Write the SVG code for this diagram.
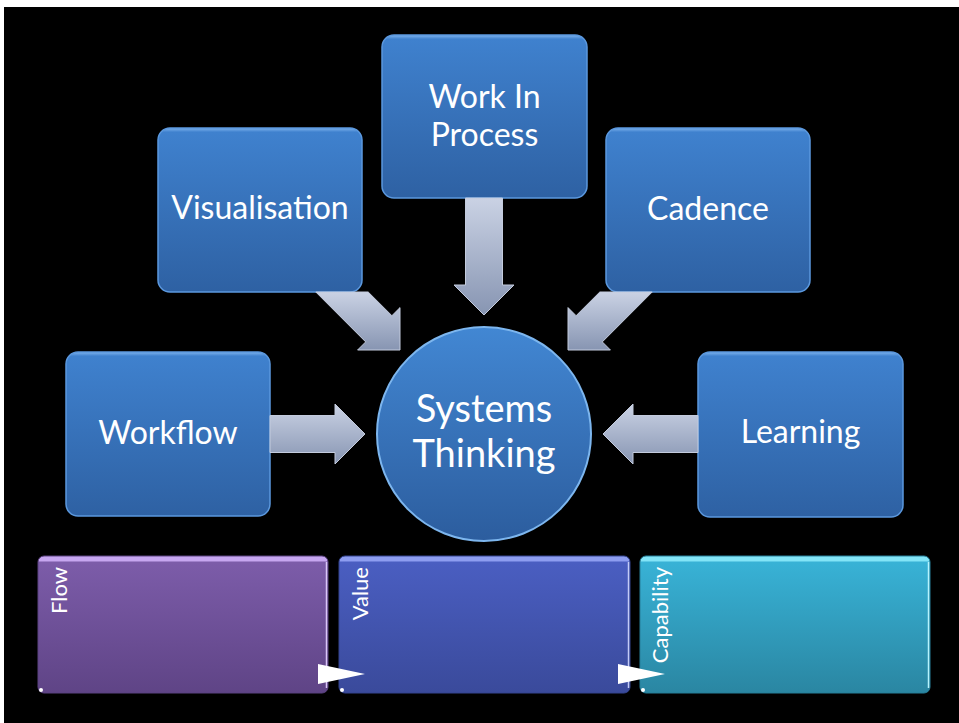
<svg xmlns="http://www.w3.org/2000/svg" width="959" height="723" viewBox="0 0 959 723">
<defs>
<linearGradient id="gBlue" x1="0" y1="0" x2="0" y2="1">
<stop offset="0" stop-color="#7fb4ee"/>
<stop offset="0.025" stop-color="#3f81ce"/>
<stop offset="1" stop-color="#2e61a3"/>
</linearGradient>
<linearGradient id="gCircle" x1="0" y1="0" x2="0" y2="1">
<stop offset="0" stop-color="#4287d3"/>
<stop offset="1" stop-color="#2c5d9e"/>
</linearGradient>
<linearGradient id="gArrow" x1="0" y1="0" x2="0" y2="1">
<stop offset="0" stop-color="#cad2e4"/>
<stop offset="1" stop-color="#8795b2"/>
</linearGradient>
<linearGradient id="gFlow" x1="0" y1="0" x2="0" y2="1">
<stop offset="0" stop-color="#c6a6f0"/>
<stop offset="0.035" stop-color="#c6a6f0"/>
<stop offset="0.045" stop-color="#7c5ca9"/>
<stop offset="1" stop-color="#5f4486"/>
</linearGradient>
<linearGradient id="gValue" x1="0" y1="0" x2="0" y2="1">
<stop offset="0" stop-color="#8d9df0"/>
<stop offset="0.035" stop-color="#8d9df0"/>
<stop offset="0.045" stop-color="#4a5ec1"/>
<stop offset="1" stop-color="#3a4a9b"/>
</linearGradient>
<linearGradient id="gCap" x1="0" y1="0" x2="0" y2="1">
<stop offset="0" stop-color="#82e4f7"/>
<stop offset="0.035" stop-color="#82e4f7"/>
<stop offset="0.045" stop-color="#38b2d6"/>
<stop offset="1" stop-color="#2a86a2"/>
</linearGradient>
</defs>
<style>
.box{fill:url(#gBlue);stroke:#5b98de;stroke-width:1.5}
.lbl{font-family:Lato,"Liberation Sans",sans-serif;font-size:32px;fill:#ffffff;text-anchor:middle}
.big{font-size:38px}
.vlbl{font-family:Lato,"Liberation Sans",sans-serif;font-size:22px;fill:#ffffff;text-anchor:end}
.arrow{fill:url(#gArrow);stroke:#c3cbdd;stroke-width:1}
.tri{fill:#ffffff}
.edge{stroke-width:1.5;fill:none}
.dot{fill:#ffffff}
</style>
<rect x="0" y="0" width="959" height="723" fill="#ffffff"/>
<rect x="4" y="7" width="955" height="716" fill="#000000"/>

<g id="node-workflow">
<rect class="box" x="66" y="352" width="204" height="164" rx="12"/>
<text class="lbl" x="168" y="444">Workflow</text>
</g>
<g id="node-visualisation">
<rect class="box" x="158" y="128" width="204" height="164" rx="12"/>
<text class="lbl" x="260" y="219">Visualisation</text>
</g>
<g id="node-wip">
<rect class="box" x="382" y="35" width="205" height="163" rx="12"/>
<text class="lbl" x="484.5" y="108">Work In</text>
<text class="lbl" x="484.5" y="146">Process</text>
</g>
<g id="node-cadence">
<rect class="box" x="606" y="128" width="204" height="164" rx="12"/>
<text class="lbl" x="708" y="220">Cadence</text>
</g>
<g id="node-learning">
<rect class="box" x="698" y="352" width="205" height="165" rx="12"/>
<text class="lbl" x="800.5" y="443">Learning</text>
</g>
<g id="node-systems-thinking">
<circle cx="484" cy="434" r="107" fill="url(#gCircle)" stroke="#7db6ee" stroke-width="2"/>
<text class="lbl big" x="484" y="422">Systems</text>
<text class="lbl big" x="484" y="467">Thinking</text>
</g>

<g id="node-flow">
<rect x="38" y="556" width="290" height="137" rx="6" fill="url(#gFlow)" stroke="#5a4280" stroke-width="1"/>
<line class="edge" x1="326.5" y1="562" x2="326.5" y2="688" stroke="#d9c6f7"/>
<circle class="dot" cx="41" cy="690" r="2"/>
<text class="vlbl" transform="translate(67,567) rotate(-90)">Flow</text>
</g>
<g id="node-value">
<rect x="339" y="556" width="291" height="137" rx="6" fill="url(#gValue)" stroke="#34448f" stroke-width="1"/>
<line class="edge" x1="628.5" y1="562" x2="628.5" y2="688" stroke="#c3cbf7"/>
<circle class="dot" cx="342" cy="690" r="2"/>
<text class="vlbl" transform="translate(368,567) rotate(-90)">Value</text>
</g>
<g id="node-capability">
<rect x="640" y="556" width="290" height="137" rx="6" fill="url(#gCap)" stroke="#277f99" stroke-width="1"/>
<line class="edge" x1="928.5" y1="562" x2="928.5" y2="688" stroke="#b6f3fd"/>
<circle class="dot" cx="643" cy="690" r="2"/>
<text class="vlbl" transform="translate(668,567) rotate(-90)">Capability</text>
</g>

<g id="connectors">
<path class="arrow" d="M270,415.5 H335 V404 L365,434 L335,464 V452.5 H270 Z"/>
<path class="arrow" d="M698,415.5 H633 V404 L603,434 L633,464 V452.5 H698 Z"/>
<path class="arrow" d="M465.5,198 V285 H454 L484,315 L514,285 H502.5 V198 Z"/>
<path class="arrow" d="M368.2,292 L391.9,315.7 L400,307.6 L400,350 L357.6,350 L365.7,341.9 L315.8,292 Z"/>
<path class="arrow" d="M599.8,292 L576.1,315.7 L568,307.6 L568,350 L610.4,350 L602.3,341.9 L652.2,292 Z"/>
<polygon class="tri" points="318,664 365,674 318,684"/>
<polygon class="tri" points="618,664 665,674 618,684"/>
</g>
</svg>
